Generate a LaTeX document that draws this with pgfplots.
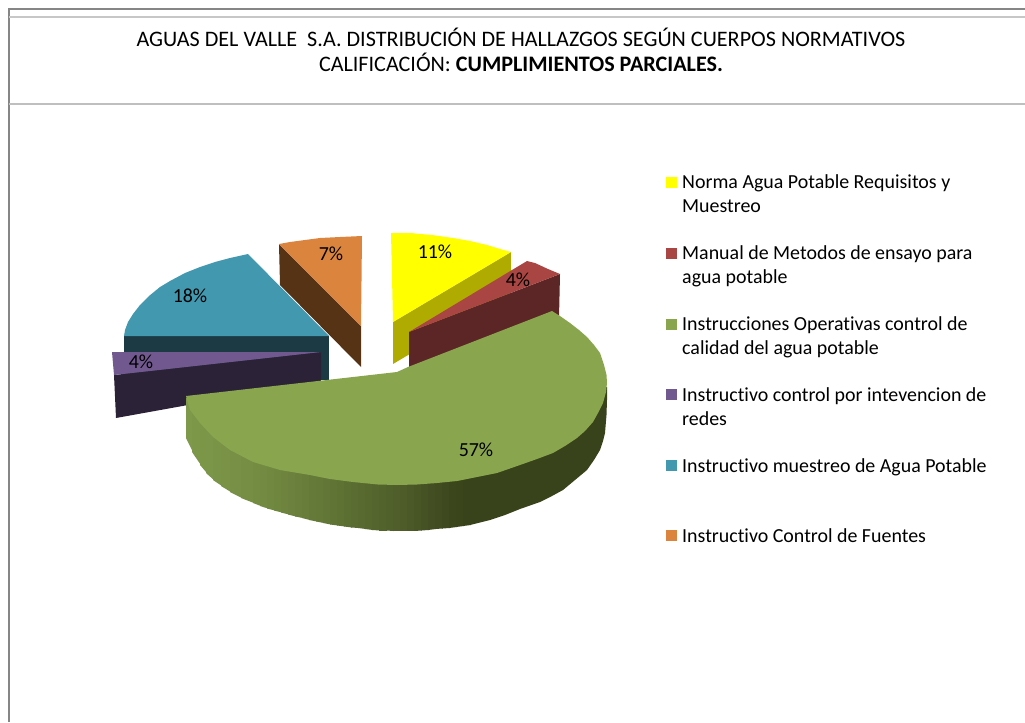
\documentclass[border=0pt]{standalone}
\usepackage{pgfplots}
\pgfplotsset{compat=1.18}
\usepackage{fontspec}
\setmainfont{Carlito}[Ligatures=NoCommon]
\definecolor{cY}{HTML}{FFFF00}\definecolor{cYs}{HTML}{B0AB00}
\definecolor{cR}{HTML}{A94643}\definecolor{cRs}{HTML}{5C2626}
\definecolor{cG}{HTML}{89A54E}
\definecolor{cA}{HTML}{7F9A4A}\definecolor{cD}{HTML}{38421B}
\definecolor{cP}{HTML}{71588F}\definecolor{cPs}{HTML}{2B2238}
\definecolor{cT}{HTML}{4198AF}\definecolor{cTs}{HTML}{1B3A43}
\definecolor{cO}{HTML}{DB843D}\definecolor{cOs}{HTML}{573316}
\newcommand{\lab}[2]{\node[anchor=base west,inner sep=0pt,font=\fontsize{20}{22}\selectfont] at (axis cs:682,#1) {#2};}
\newcommand{\pct}[2]{\node[inner sep=0pt,font=\fontsize{20}{22}\selectfont] at (axis cs:#1) {#2};}
\newcommand{\strip}[5]{\addplot[fill=cD!#5!cA,draw=none] coordinates {(#1,398)(#2.9,398)(#2.9,#4)(#1,#3)};}
\begin{document}
\begin{tikzpicture}
\begin{axis}[hide axis,scale only axis,width=1025bp,height=722bp,
 xmin=0,xmax=1025,ymin=0,ymax=722,y dir=reverse,no markers]
\path (axis cs:0,0) rectangle (axis cs:1025,722);
% frame
\addplot[draw=gray!95,line width=1.5bp] coordinates {(9,722)(9,9)(1025,9)};
\addplot[draw=black!22,line width=1.5bp] coordinates {(9,17)(1025,17)};
\addplot[draw=black!25,line width=1.5bp] coordinates {(9,104)(1025,104)};
% teal slice
\addplot[fill=cTs,draw=none] coordinates {(124,336)(329,336)(329,380)(124,380)};
\addplot[fill=cT,draw=none] coordinates {(329,336)(248,254)(230,258)(215,262)(200,267)(185,273)(170,281)(160,287)(149,296)(140,305)(133,314)(128,322)(125,330)(124,336)};
% orange slice
\addplot[fill=cOs,draw=none] coordinates {(279,244)(361,326)(361,367)(280,285)};
\addplot[fill=cO,draw=none] coordinates {(279,244)(290,242)(305,240)(320,238)(340,237)(362,236)(361,326)};
% purple slice
\addplot[fill=cPs,draw=none] coordinates {(114,375)(321,352)(321,381)(116,418)};
\addplot[fill=cP,draw=none] coordinates {(112,352)(321,352)(114,375)};
% yellow slice
\addplot[fill=cYs,draw=none] coordinates {(511,252)(393,322)(393,364)(511,294)};
\addplot[fill=cY,draw=none] coordinates {(391,233)(410,233)(432,235)(453,238)(470,241)(487,245)(500,249)(511,252)(393,322)};
% red slice
\addplot[fill=cRs,draw=none] coordinates {(409,332)(560,274)(559,318)(409,370)};
\addplot[fill=cR,draw=none] coordinates {(409,332)(527,261)(535,263)(548,269)(560,274)};
% green slice: side strips, then top
\strip{186}{192}{438}{452}{1}
\strip{192}{200}{452}{465}{3}
\strip{200}{206}{465}{473}{4}
\strip{206}{213}{473}{480}{5}
\strip{213}{221}{480}{486}{7}
\strip{221}{230}{486}{492}{9}
\strip{230}{241}{492}{498}{11}
\strip{241}{253}{498}{503}{14}
\strip{253}{260}{503}{506}{16}
\strip{260}{267}{506}{508.5}{18}
\strip{267}{274}{508.5}{510.5}{21}
\strip{274}{281}{510.5}{512.5}{23}
\strip{281}{288}{512.5}{514.5}{26}
\strip{288}{295}{514.5}{516.5}{28}
\strip{295}{302}{516.5}{518}{31}
\strip{302}{309}{518}{520}{33}
\strip{309}{316}{520}{521.5}{36}
\strip{316}{323}{521.5}{523}{38}
\strip{323}{330}{523}{524.5}{41}
\strip{330}{337}{524.5}{525.5}{43}
\strip{337}{344}{525.5}{526.5}{46}
\strip{344}{351}{526.5}{527.5}{49}
\strip{351}{358}{527.5}{528}{52}
\strip{358}{365}{528}{529}{54}
\strip{365}{372}{529}{530}{57}
\strip{372}{379}{530}{530.5}{60}
\strip{379}{386}{530.5}{530.5}{63}
\strip{386}{393}{530.5}{531}{65}
\strip{393}{400}{531}{531}{68}
\strip{400}{407}{531}{531}{71}
\strip{407}{414}{531}{531}{74}
\strip{414}{421}{531}{530.5}{78}
\strip{421}{428}{530.5}{530}{81}
\strip{428}{435}{530}{529}{85}
\strip{435}{442}{529}{528.5}{88}
\strip{442}{449}{528.5}{528}{92}
\strip{449}{456}{528}{527}{95}
\strip{456}{463}{527}{526}{97}
\strip{463}{470}{526}{525}{99}
\addplot[fill=cD,draw=none] coordinates {(470,398)(470,525)(490,520)(505,515)(520,509)(540,502)(552,496)(563,490)(575,480)(587,470)(594,460)(600,450)(603,441)(605,433)(606.5,415)(607,400)(607,387)};
\addplot[fill=cG,draw=none] coordinates {(186,396)(397,372)(408,367)(552,311)(560,316)(570,323)(579,330)(587,337)(594,345)(600,353)(604,365)(606.5,375)(607,383)(606,392)(603,403)(598,413)(593,422)(585,431)(577,438)(565,446)(553,453)(537,459)(520,465)(497,473)(477,477)(457,481)(437,483)(417,484.5)(397,485)(378,484.5)(353,482)(330,479)(310,475)(280,470)(253,462)(230,450)(213,437)(200,423)(190,410)};
% legend swatches
\addplot[fill=cY,draw=none] coordinates {(666,177)(677,177)(677,188)(666,188)};
\addplot[fill=cR,draw=none] coordinates {(666,248)(677,248)(677,259)(666,259)};
\addplot[fill=cG,draw=none] coordinates {(666,319)(677,319)(677,330)(666,330)};
\addplot[fill=cP,draw=none] coordinates {(666,389)(677,389)(677,400)(666,400)};
\addplot[fill=cT,draw=none] coordinates {(666,460)(677,460)(677,471)(666,471)};
\addplot[fill=cO,draw=none] coordinates {(666,530)(677,530)(677,541)(666,541)};
% texts
\lab{188}{Norma Agua Potable Requisitos y}
\lab{212}{Muestreo}
\lab{259}{Manual de Metodos de ensayo para}
\lab{283}{agua potable}
\lab{330}{Instrucciones Operativas control de}
\lab{354}{calidad del agua potable}
\lab{401}{Instructivo control por intevencion de}
\lab{425}{redes}
\lab{472}{Instructivo muestreo de Agua Potable}
\lab{542}{Instructivo Control de Fuentes}
\pct{435,252}{11\%}
\pct{518,280}{4\%}
\pct{476,450}{57\%}
\pct{141,362}{4\%}
\pct{190,296}{18\%}
\pct{331,254}{7\%}
\node[anchor=base,inner sep=0pt,font=\fontsize{22.2}{24}\selectfont] at (axis cs:521,47) {AGUAS DEL VALLE\ \ S.A. DISTRIBUCIÓN DE HALLAZGOS SEGÚN CUERPOS NORMATIVOS};
\node[anchor=base,inner sep=0pt,font=\fontsize{22.2}{24}\selectfont] at (axis cs:521,72) {CALIFICACIÓN: \textbf{CUMPLIMIENTOS PARCIALES.}};
\end{axis}
\end{tikzpicture}
\end{document}
